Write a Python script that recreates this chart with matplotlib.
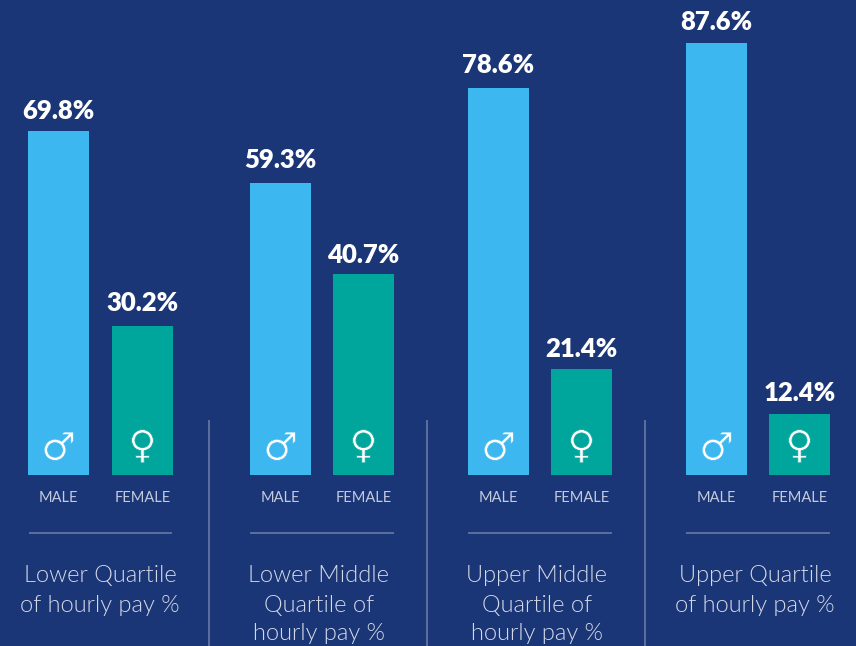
import matplotlib
matplotlib.use("Agg")
import matplotlib.pyplot as plt
import matplotlib.patheffects as pe

male_values = [69.8, 59.3, 78.6, 87.6]
female_values = [30.2, 40.7, 21.4, 12.4]
bar_labels = ["MALE", "FEMALE"]
group_titles = ["Lower Quartile\nof hourly pay %",
                "Lower Middle\nQuartile of\nhourly pay %",
                "Upper Middle\nQuartile of\nhourly pay %",
                "Upper Quartile\nof hourly pay %"]

BG = "#1b3676"
MALE_C = "#3db7ef"
FEMALE_C = "#00a69c"
LINE = "#6879a6"
LABEL = "#c3cbdf"
TITLE = "#d3d9e8"
UNIT = 4.93
BASE = 475

male_x = [58.5, 280.5, 498.5, 716.5]
female_x = [142.5, 363.5, 581.5, 799.5]
male_lift = [7, 10, 10, 8]
female_lift = [10, 6, 7, 8]
rule_spans = [(29, 172), (250, 394), (468, 612), (686, 830)]
title_x = [100, 319, 537, 755]
sep_x = [209.5, 427.5, 645.5]

def py(y):
    return (BASE - y) / UNIT

fig = plt.figure(figsize=(8.56, 6.46), dpi=100, facecolor=BG)
ax = fig.add_axes([0, 0, 1, 1])
ax.set_xlim(0, 856)
ax.set_ylim(py(646), py(0))
ax.axis("off")

ax.bar(male_x, male_values, width=61, color=MALE_C)
ax.bar(female_x, female_values, width=61, color=FEMALE_C)

for xs, vals, lifts, sym, name, col, dx, sy in [
        (male_x, male_values, male_lift, "\u2642", bar_labels[0], MALE_C, 0, 449),
        (female_x, female_values, female_lift, "\u2640", bar_labels[1], FEMALE_C, 0, 447)]:
    for x, v, lift in zip(xs, vals, lifts):
        ax.text(x, v + (5 + lift) / UNIT, f"{v}%", ha="center", va="baseline", color="white",
                fontsize=18.5, fontweight=800, family="Lato")
        ax.text(x + dx, py(sy), sym, ha="center", va="center", color="white",
                fontsize=28, family="DejaVu Sans",
                path_effects=[pe.Normal(), pe.Stroke(linewidth=0.6, foreground=col)])
        ax.text(x, py(502), name, ha="center", va="baseline", color=LABEL,
                fontsize=10.5, family="Lato")

for (a, b), tx, title in zip(rule_spans, title_x, group_titles):
    ax.plot([a, b], [py(533), py(533)], color=LINE, lw=1.2, solid_capstyle="butt")
    for i, line in enumerate(title.split("\n")):
        ax.text(tx, py(582.5 + 29 * i), line, ha="center", va="baseline", color=TITLE,
                fontsize=17, family="Lato", fontweight=300)

for x in sep_x:
    ax.plot([x, x], [py(420), py(646)], color=LINE, lw=1.2, solid_capstyle="butt")

fig.savefig("out.png", dpi=100, facecolor=BG)
